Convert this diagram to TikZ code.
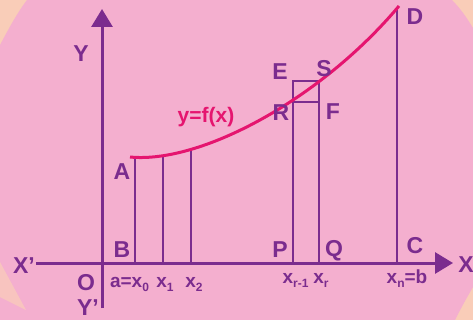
\documentclass[tikz,border=0pt]{standalone}
\usepackage{fontspec}
\setmainfont{Liberation Sans}
\usepackage{tikz}
\usetikzlibrary{arrows.meta}
\definecolor{plum}{HTML}{7B2C8E}
\definecolor{rosebg}{HTML}{F4AFCF}
\definecolor{peach}{HTML}{F9CDB8}
\definecolor{curvecol}{HTML}{E5156F}
\newcommand\lowsub[1]{\raisebox{-0.45ex}{\fontsize{12}{12}\selectfont #1}}

\begin{document}
\begin{tikzpicture}[x=1pt, y=-1pt,
  axis/.style={line width=3pt, plum, -{Triangle[length=18pt, width=21pt]}},
  ordinate/.style={line width=2.7pt, plum},
  ptlabel/.style={text=plum, anchor=base, inner sep=0pt, font=\fontsize{23}{23}\selectfont\bfseries},
  ticklabel/.style={text=plum, anchor=base, inner sep=0pt, font=\fontsize{19}{19}\selectfont\bfseries}
]
  % background
  \fill[peach] (0,0) rectangle (473,320);
  \fill[rosebg] (27,0) -- (452,0) .. controls (460,8) and (467,18) .. (473,28) -- (473,287)
    .. controls (466,299) and (460,310) .. (455,320) -- (0,320) -- (0,45) .. controls (8,30) and (17,13) .. (27,0) -- cycle;
  \fill[peach!70!rosebg] (0,262) -- (26,310) -- (0,297) -- cycle;
  \useasboundingbox (0,0) rectangle (473,320);

  % axes
  \coordinate (xleft) at (36,263);
  \coordinate (xright) at (453,263);
  \coordinate (ybottom) at (102,308);
  \coordinate (ytop) at (102,9);
  \draw[axis] (xleft) -- (xright);
  \draw[axis] (ybottom) -- (ytop);

  % points
  \coordinate (A) at (135,157.5);
  \coordinate (B) at (135,263);
  \coordinate (x1top) at (163,155.7);
  \coordinate (x1bot) at (163,263);
  \coordinate (x2top) at (191,149.5);
  \coordinate (x2bot) at (191,263);
  \coordinate (P) at (293,263);
  \coordinate (Q) at (319,263);
  \coordinate (R) at (293,102);
  \coordinate (F) at (319,102);
  \coordinate (E) at (293,81);
  \coordinate (S) at (319,81);
  \coordinate (C) at (397,263);
  \coordinate (D) at (397,9);

  % ordinates and strip
  \draw[ordinate] (B) -- (A);
  \draw[ordinate] (x1bot) -- (x1top);
  \draw[ordinate] (x2bot) -- (x2top);
  \draw[ordinate] (P) -- (E) -- (S) -- (Q);
  \draw[ordinate] (R) -- (F);
  \draw[ordinate] (C) -- (D);

  % curve
  \draw[curvecol, line width=3pt] (130,157) .. controls (200,164) and (320,100) .. (399,6);

  % labels
  \node[ptlabel] (labY) at (81,62) {Y};
  \node[ptlabel] (labYp) at (88,315) {Y’};
  \node[ptlabel] (labO) at (86,290) {O};
  \node[ptlabel] (labXp) at (24,273) {X’};
  \node[ptlabel] (labX) at (466,272) {X};
  \node[ptlabel] (labA) at (122,180) {A};
  \node[ptlabel] (labB) at (122,257) {B};
  \node[ptlabel] (labP) at (280,257) {P};
  \node[ptlabel] (labQ) at (334,256) {Q};
  \node[ptlabel] (labC) at (415,253) {C};
  \node[ptlabel] (labE) at (280,80) {E};
  \node[ptlabel] (labS) at (324,77) {S};
  \node[ptlabel] (labR) at (281,121) {R};
  \node[ptlabel] (labF) at (333,120) {F};
  \node[ptlabel] (labD) at (415,25) {D};
  \node[ptlabel, text=curvecol, font=\fontsize{21}{21}\selectfont\bfseries] (labfx) at (206,123) {y=f(x)};

  \node[ticklabel] (tx0) at (129.5,287) {a=x\lowsub{0}};
  \node[ticklabel] (tx1) at (165,287) {x\lowsub{1}};
  \node[ticklabel] (tx2) at (194,287) {x\lowsub{2}};
  \node[ticklabel] (txr1) at (295.5,283) {x\lowsub{r-1}};
  \node[ticklabel] (txr) at (321,283) {x\lowsub{r}};
  \node[ticklabel] (txn) at (407,283) {x\lowsub{n}=b};
\end{tikzpicture}
\end{document}
